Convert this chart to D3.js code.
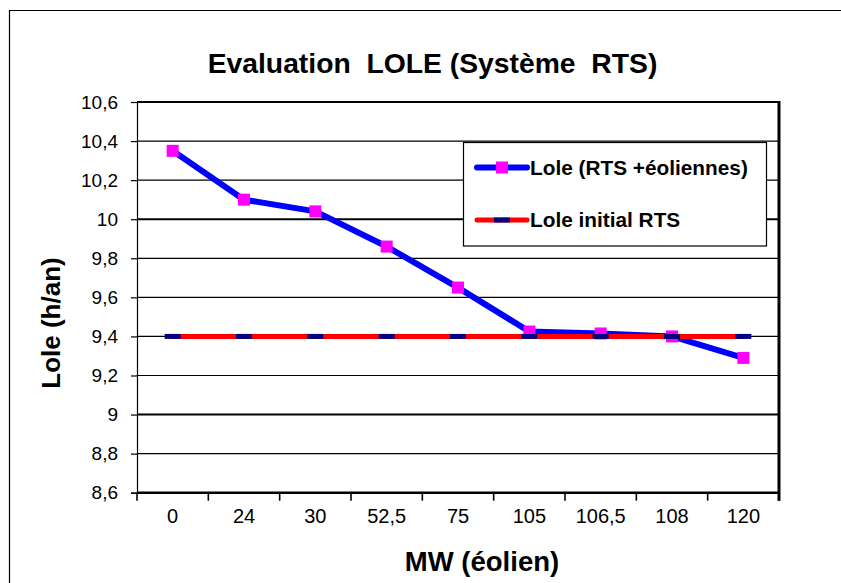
<!DOCTYPE html>
<html>
<head>
<meta charset="utf-8">
<script src="https://cdn.jsdelivr.net/npm/d3@7"></script>
<style>
  html, body { margin: 0; padding: 0; background: #fff; }
  svg { display: block; }
  text { font-family: "Liberation Sans", Arial, sans-serif; fill: #000; }
</style>
</head>
<body>
<svg id="chart" width="841" height="583"></svg>
<script>
// ---- data ----
const categories = ["0", "24", "30", "52,5", "75", "105", "106,5", "108", "120"];
const loleWind = [10.35, 10.10, 10.04, 9.86, 9.65, 9.425, 9.415, 9.40, 9.29];
const loleInitial = [9.4, 9.4, 9.4, 9.4, 9.4, 9.4, 9.4, 9.4, 9.4];
const yTicks = [8.6, 8.8, 9, 9.2, 9.4, 9.6, 9.8, 10, 10.2, 10.4, 10.6];
const seriesNames = ["Lole (RTS +éoliennes)", "Lole initial RTS"];
const titleText = "Evaluation  LOLE (Système  RTS)";
const xTitle = "MW (éolien)";
const yTitle = "Lole (h/an)";

// ---- layout ----
const svg = d3.select("#chart");
const pLeft = 137, pRight = 779, pTop = 102, pBottom = 492.7;

const x = d3.scaleBand().domain(categories).range([pLeft, pRight]).padding(0);
const y = d3.scaleLinear().domain([8.6, 10.6]).range([pBottom, pTop]);
const fmt = v => String(+v.toFixed(1)).replace(".", ",");

// outer frame (clipped by page)
svg.append("path").attr("d", "M9.5,583 V10.5 H841")
  .attr("fill", "none").attr("stroke", "#000").attr("stroke-width", 1.2);

// gridlines
svg.append("g").selectAll("line").data(yTicks).join("line")
  .attr("x1", pLeft).attr("x2", pRight)
  .attr("y1", d => y(d)).attr("y2", d => y(d))
  .attr("stroke", "#000")
  .attr("stroke-width", d => (d === 10 || d === 9 || d === 10.6) ? 2 : 1.2);

// y axis
const yAxis = svg.append("g").attr("transform", `translate(${pLeft},0)`)
  .call(d3.axisLeft(y).tickValues(yTicks).tickFormat(fmt).tickSize(6).tickPadding(13));
yAxis.select(".domain").attr("stroke", "#000").attr("stroke-width", 1.2);
yAxis.selectAll(".tick line").attr("stroke", "#000").attr("stroke-width", 1.2);
yAxis.selectAll("text").attr("font-size", 19).attr("fill", "#000")
  .attr("font-family", "'Liberation Sans', Arial, sans-serif");

// x axis
const xAxis = svg.append("g").attr("transform", `translate(0,${pBottom})`)
  .call(d3.axisBottom(x).tickSize(0).tickPadding(16));
xAxis.select(".domain").remove();
xAxis.selectAll("text").attr("font-size", 20).attr("fill", "#000")
  .attr("font-family", "'Liberation Sans', Arial, sans-serif");
// bottom axis line
svg.append("line").attr("x1", pLeft).attr("x2", pRight).attr("y1", pBottom).attr("y2", pBottom)
  .attr("stroke", "#000").attr("stroke-width", 2.4);
// boundary ticks
const bounds = categories.map(c => x(c)).concat([x(categories[categories.length - 1]) + x.bandwidth()]);
svg.append("g").selectAll("line").data(bounds).join("line")
  .attr("x1", d => d).attr("x2", d => d).attr("y1", pBottom).attr("y2", pBottom + 8)
  .attr("stroke", "#000").attr("stroke-width", 1.6);
// right border
svg.append("line").attr("x1", pRight).attr("x2", pRight).attr("y1", pTop - 1).attr("y2", pBottom + 8)
  .attr("stroke", "#000").attr("stroke-width", 3);

const cx = c => x(c) + x.bandwidth() / 2;

// series 1: blue line with magenta squares
const line1 = d3.line().x((d, i) => cx(categories[i])).y(d => y(d));
svg.append("path").datum(loleWind).attr("d", line1)
  .attr("fill", "none").attr("stroke", "#0000FF").attr("stroke-width", 6)
  .attr("stroke-linejoin", "round");
svg.append("g").selectAll("rect").data(loleWind).join("rect")
  .attr("x", (d, i) => cx(categories[i]) - 6).attr("y", d => y(d) - 6)
  .attr("width", 12).attr("height", 12).attr("fill", "#FF00FF");

// series 2: red line with navy dash markers
svg.append("path").datum(loleInitial).attr("d", line1)
  .attr("fill", "none").attr("stroke", "#FF0000").attr("stroke-width", 5);
svg.append("g").selectAll("rect").data(loleInitial).join("rect")
  .attr("x", (d, i) => cx(categories[i]) - 8).attr("y", d => y(d) - 2.5)
  .attr("width", 16).attr("height", 5).attr("fill", "#000080");

// legend
const lg = svg.append("g");
lg.append("rect").attr("x", 463.5).attr("y", 142.5).attr("width", 303).attr("height", 103.5)
  .attr("fill", "#fff").attr("stroke", "#000").attr("stroke-width", 1.2);
const legY = [167.5, 220];
lg.append("line").attr("x1", 477).attr("x2", 527).attr("y1", legY[0]).attr("y2", legY[0])
  .attr("stroke", "#0000FF").attr("stroke-width", 6).attr("stroke-linecap", "round");
lg.append("rect").attr("x", 496).attr("y", legY[0] - 6).attr("width", 12).attr("height", 12).attr("fill", "#FF00FF");
lg.append("line").attr("x1", 477).attr("x2", 527).attr("y1", legY[1]).attr("y2", legY[1])
  .attr("stroke", "#FF0000").attr("stroke-width", 5).attr("stroke-linecap", "round");
lg.append("rect").attr("x", 494).attr("y", legY[1] - 2.5).attr("width", 16).attr("height", 5).attr("fill", "#000080");
lg.selectAll("text.leg").data(seriesNames).join("text").attr("class", "leg")
  .attr("x", 530).attr("y", (d, i) => legY[i]).attr("dy", "0.35em")
  .attr("font-size", 20.8).attr("font-weight", "bold").text(d => d);

// titles
svg.append("text").attr("x", 432.5).attr("y", 73).attr("text-anchor", "middle")
  .attr("font-size", 28.3).attr("font-weight", "bold").style("white-space", "pre").text(titleText);
svg.append("text").attr("x", 482).attr("y", 571).attr("text-anchor", "middle")
  .attr("font-size", 27.5).attr("font-weight", "bold").text(xTitle);
svg.append("text").attr("transform", "translate(60,323) rotate(-90)").attr("text-anchor", "middle")
  .attr("font-size", 26).attr("font-weight", "bold").text(yTitle);
</script>
</body>
</html>
